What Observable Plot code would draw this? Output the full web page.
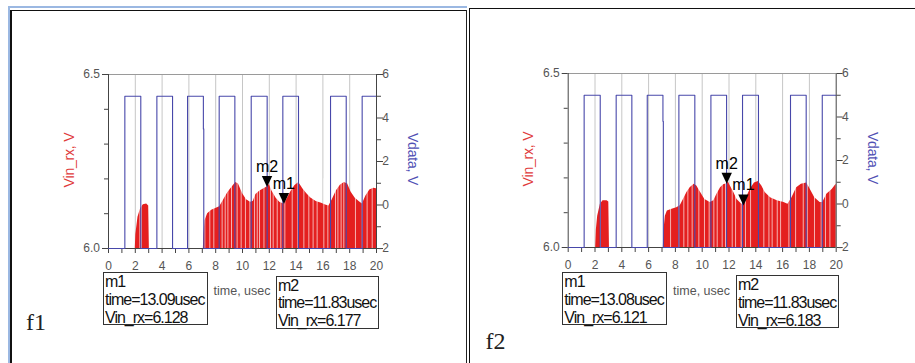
<!DOCTYPE html>
<html>
<head>
<meta charset="utf-8">
<script src="https://cdn.jsdelivr.net/npm/d3@7"></script>
<script src="https://cdn.jsdelivr.net/npm/@observablehq/plot@0.6"></script>
<style>
  html, body { margin: 0; padding: 0; background: #fff; }
  #page { position: relative; width: 915px; height: 363px; overflow: hidden; background: #fff;
          font-family: "Liberation Sans", Arial, sans-serif; }
  .layer { position: absolute; top: 0; }
  .line { position: absolute; }
  .box { position: absolute; border: 1px solid #333; box-sizing: border-box; font-size: 16px;
         letter-spacing: -1px; line-height: 17.8px; color: #111; padding-left: 1px; white-space: nowrap; }
  .axlab { position: absolute; font-size: 14px; white-space: nowrap; letter-spacing: -0.2px; }
  .xlab { position: absolute; font-size: 12.5px; color: #555; white-space: nowrap; transform: translate(-50%, -50%); }
  .fig { position: absolute; font-family: "Liberation Serif", "Times New Roman", serif; font-size: 24px;
         line-height: 24px; color: #222; }
</style>
</head>
<body>
<div id="page"></div>
<script>
// ---------------- data ----------------
const xTickLabels = [0, 2, 4, 6, 8, 10, 12, 14, 16, 18, 20];
const xMinorTicks = [1, 3, 5, 7, 9, 11, 13, 15, 17, 19];
const gridTimes = [2, 4, 6, 8, 10, 12, 14, 16, 18];
const leftTickLabels = [6.0, 6.5];
const leftMinorTicks = [6.1, 6.2, 6.3, 6.4];
const rightTickLabels = [-2, 0, 2, 4, 6];
const rightMinorTicks = [-1, 1, 3, 5];

// Panel f1
const vinTime1  = [0, 2.0, 2.04, 2.2, 2.4, 2.6, 2.85, 3.0, 3.05, 7.08, 7.12, 7.2, 7.4, 7.7, 8.0, 8.3, 8.6, 8.9, 9.2, 9.5, 9.7, 10.0, 10.3, 10.6, 10.8, 11.0, 11.3, 11.6, 11.83, 12.0, 12.2, 12.5, 12.8, 13.09, 13.3, 13.6, 13.9, 14.2, 14.5, 14.8, 15.1, 15.5, 15.9, 16.2, 16.45, 16.7, 17.0, 17.3, 17.6, 17.85, 18.1, 18.4, 18.7, 18.95, 19.2, 19.5, 19.8, 20.0];
const vinValue1 = [6.0, 6.0, 6.04, 6.09, 6.115, 6.126, 6.128, 6.122, 6.0, 6.0, 6.04, 6.08, 6.10, 6.11, 6.115, 6.12, 6.14, 6.16, 6.175, 6.19, 6.185, 6.158, 6.14, 6.133, 6.135, 6.155, 6.165, 6.172, 6.177, 6.184, 6.165, 6.145, 6.132, 6.128, 6.14, 6.162, 6.18, 6.19, 6.172, 6.157, 6.145, 6.135, 6.13, 6.125, 6.122, 6.14, 6.165, 6.182, 6.19, 6.185, 6.162, 6.145, 6.135, 6.128, 6.15, 6.168, 6.173, 6.172];
const vdataTime1  = [0, 1.22, 2.41, 3.61, 4.78, 5.9, 7.08, 7.11, 8.26, 9.43, 10.65, 11.84, 13.01, 14.18, 16.57, 17.74, 18.93, 20];
const vdataLevel1 = [-2, 5, -2, 5, -2, 5, 3.5, -2, 5, -2, 5, -2, 5, -2, 5, -2, 5, 5];
const streaks1 = [2.34, 2.46, 7.19, 7.56, 7.86, 8.48, 8.71, 8.91, 9.18, 9.6, 9.9, 10.22, 10.55, 10.9, 11.1, 11.27, 11.6, 12.09, 12.29, 12.59, 12.86, 13.16, 13.71, 14.13, 14.58, 14.95, 15.27, 15.57, 16.07, 16.37, 16.94, 17.12, 17.36, 17.56, 18.43, 18.93, 19.3, 19.68];
const markerName1  = ["m1", "m2"];
const markerTime1  = [13.09, 11.83];
const markerValue1 = [6.128, 6.177];

// Panel f2
const vinTime2  = [0, 2.05, 2.1, 2.2, 2.4, 2.6, 2.9, 3.03, 3.08, 7.1, 7.15, 7.25, 7.4, 7.75, 8.1, 8.36, 8.6, 8.86, 9.1, 9.4, 9.6, 9.85, 10.2, 10.6, 10.87, 11.1, 11.37, 11.6, 11.83, 11.95, 12.1, 12.36, 12.6, 12.86, 13.08, 13.33, 13.58, 13.9, 14.2, 14.45, 14.7, 15.1, 15.6, 16.1, 16.4, 16.7, 17.05, 17.4, 17.8, 18.0, 18.4, 18.8, 19.0, 19.3, 19.7, 20.0];
const vinValue2 = [6.0, 6.0, 6.05, 6.09, 6.124, 6.134, 6.134, 6.131, 6.0, 6.0, 6.05, 6.09, 6.105, 6.11, 6.114, 6.12, 6.138, 6.158, 6.172, 6.182, 6.177, 6.16, 6.138, 6.129, 6.134, 6.153, 6.172, 6.18, 6.183, 6.188, 6.177, 6.158, 6.138, 6.128, 6.121, 6.145, 6.167, 6.185, 6.19, 6.177, 6.158, 6.143, 6.134, 6.129, 6.124, 6.143, 6.172, 6.182, 6.185, 6.172, 6.143, 6.129, 6.129, 6.153, 6.167, 6.182];
const vdataTime2  = [0, 1.19, 2.39, 3.58, 4.75, 5.9, 7.07, 7.1, 8.26, 9.45, 10.65, 11.82, 13.01, 14.2, 16.59, 17.76, 18.96, 20];
const vdataLevel2 = [-2, 5, -2, 5, -2, 5, 3.8, -2, 5, -2, 5, -2, 5, -2, 5, -2, 5, 5];
const streaks2 = [2.41, 7.64, 8.26, 8.63, 8.93, 9.25, 9.75, 10.17, 10.52, 10.87, 11.12, 11.49, 11.74, 12.24, 12.49, 12.91, 13.23, 13.61, 14.6, 14.98, 15.22, 15.6, 15.85, 16.47, 16.97, 17.54, 17.84, 18.38, 18.88, 19.2, 19.53];
const markerName2  = ["m1", "m2"];
const markerTime2  = [13.08, 11.83];
const markerValue2 = [6.121, 6.183];

// ---------------- drawing ----------------
const page = document.getElementById("page");
const FONT = "'Liberation Sans', Arial, sans-serif";

function addDiv(cls, style, html) {
  const d = document.createElement("div");
  if (cls) d.className = cls;
  Object.assign(d.style, style);
  if (html != null) d.innerHTML = html;
  page.appendChild(d);
  return d;
}

const invTriangle = {
  draw(context) {
    context.moveTo(0, 0);
    context.lineTo(-5.2, -11);
    context.lineTo(5.2, -11);
    context.closePath();
  }
};

function panel(cfg) {
  const W = 460, H = 300;
  const common = {
    width: W, height: H,
    marginLeft: cfg.fx0 - cfg.left,
    marginRight: cfg.left + W - cfg.fx1,
    marginTop: cfg.fy0,
    marginBottom: H - cfg.fy1,
    style: {background: "transparent", fontFamily: FONT, fontSize: "12px", color: "#444", overflow: "visible"}
  };
  const vin = cfg.vinTime.map((t, i) => ({t, v: cfg.vinValue[i]}));
  const vdata = cfg.vdataTime.map((t, i) => ({t, v: cfg.vdataLevel[i]}));
  const markers = cfg.markerName.map((name, i) => ({name, time: cfg.markerTime[i], value: cfg.markerValue[i]}));

  // Layer A: Vin_rx (left scale) with bottom and left axes
  const a = Plot.plot({
    ...common,
    x: {domain: [0, 20], label: null},
    y: {domain: [6.0, 6.5], label: null},
    marks: [
      Plot.ruleX(gridTimes, {stroke: "#c6c6c6", strokeWidth: 1}),
      Plot.areaY(vin, {x: "t", y1: 6.0, y2: "v", fill: "#e41f1f", curve: "linear"}),
      Plot.ruleX(cfg.streaks, {y1: 6.0, y2: 6.2, stroke: "#ffffff", strokeOpacity: 0.65, strokeWidth: 1}),
      Plot.ruleY([6.5], {stroke: "#9a9a9a"}),
      Plot.axisX({ticks: xMinorTicks, tickSize: 5, tickFormat: () => "", label: null}),
      Plot.axisX({ticks: xTickLabels, tickSize: 5, tickPadding: 7.5, tickFormat: d => String(d), label: null, fill: "#555"}),
      Plot.axisY({ticks: leftMinorTicks, tickSize: 4, tickFormat: () => "", label: null}),
      Plot.axisY({ticks: leftTickLabels, tickSize: 6, tickPadding: 2.5, tickFormat: d => d.toFixed(1), label: null, fill: "#555"}),
      Plot.ruleX([0], {stroke: "#444"}),
      Plot.ruleY([6.0], {stroke: "#444"})
    ]
  });
  a.classList.add("layer");
  a.style.left = cfg.left + "px";
  page.appendChild(a);

  // Layer B: Vdata (right scale)
  const b = Plot.plot({
    ...common,
    x: {domain: [0, 20], label: null, axis: null},
    y: {domain: [-2, 6], label: null},
    marks: [
      Plot.line(vdata, {x: "t", y: "v", curve: "step-after", stroke: "#4848aa", strokeWidth: 1.1}),
      Plot.ruleX([20], {stroke: "#444"}),
      Plot.axisY({anchor: "right", ticks: rightMinorTicks, tickSize: 4, tickFormat: () => "", label: null}),
      Plot.axisY({anchor: "right", ticks: rightTickLabels, tickSize: 6, tickFormat: () => "", label: null}),
      Plot.text(rightTickLabels, {y: d => d, text: d => String(d), frameAnchor: "right", textAnchor: "end", dx: 12.5, fill: "#555"})
    ]
  });
  b.classList.add("layer");
  b.style.left = cfg.left + "px";
  page.appendChild(b);

  // Layer C: markers (left scale)
  const c = Plot.plot({
    ...common,
    x: {domain: [0, 20], label: null, axis: null},
    y: {domain: [6.0, 6.5], label: null, axis: null},
    marks: [
      Plot.dot(markers, {x: "time", y: "value", symbol: invTriangle, fill: "#000", stroke: "none"}),
      Plot.text(markers, {x: "time", y: "value", text: "name", dy: -15, lineAnchor: "bottom", fontSize: 16, fill: "#000"})
    ]
  });
  c.classList.add("layer");
  c.style.left = cfg.left + "px";
  page.appendChild(c);

  // axis titles
  const fyc = (cfg.fy0 + cfg.fy1) / 2;
  addDiv("axlab", {left: cfg.vinLabelX + "px", top: (fyc - 1) + "px", color: "#e03a3a",
    transform: "translate(-50%,-50%) rotate(-90deg)"}, "Vin_rx, V");
  addDiv("axlab", {left: cfg.vdataLabelX + "px", top: (fyc - 2) + "px", color: "#5050b4",
    transform: "translate(-50%,-50%) rotate(90deg)"}, "Vdata, V");
  addDiv("xlab", {left: cfg.timeX + "px", top: cfg.timeY + "px"}, "time, usec");

  // marker readout boxes
  markers.forEach((m, i) => {
    const bx = cfg.boxes[i];
    addDiv("box", {left: bx[0] + "px", top: bx[1] + "px", width: bx[2] + "px", height: bx[3] + "px"},
      `${m.name}<br>time=${m.time.toFixed(2)}usec<br>Vin_rx=${m.value.toFixed(3)}`);
  });

  addDiv("fig", {left: cfg.figX + "px", top: cfg.figY + "px"}, cfg.figName);
}

// panel frames
addDiv("line", {left: "8px", top: "6px", width: "459px", height: "2px", background: "#9bb8e2"});
addDiv("line", {left: "8px", top: "6px", width: "2px", height: "357px", background: "#9bb8e2"});
addDiv("line", {left: "10px", top: "9.5px", width: "457px", height: "1.5px", background: "#111"});
addDiv("line", {left: "10px", top: "9.5px", width: "1.5px", height: "354px", background: "#111"});
addDiv("line", {left: "466px", top: "9.5px", width: "1.2px", height: "354px", background: "#222"});
addDiv("line", {left: "468.5px", top: "7.5px", width: "447px", height: "1.5px", background: "#111"});
addDiv("line", {left: "468.5px", top: "7.5px", width: "1.5px", height: "356px", background: "#111"});

panel({
  left: 0, fx0: 108, fx1: 376, fy0: 74, fy1: 248,
  vinTime: vinTime1, vinValue: vinValue1, vdataTime: vdataTime1, vdataLevel: vdataLevel1,
  streaks: streaks1, markerName: markerName1, markerTime: markerTime1, markerValue: markerValue1,
  vinLabelX: 68.5, vdataLabelX: 413, timeX: 242, timeY: 291,
  boxes: [[103, 272, 105, 53], [276, 275.5, 103, 53]],
  figX: 26, figY: 310, figName: "f1"
});

panel({
  left: 460, fx0: 567.7, fx1: 835.7, fy0: 73, fy1: 247,
  vinTime: vinTime2, vinValue: vinValue2, vdataTime: vdataTime2, vdataLevel: vdataLevel2,
  streaks: streaks2, markerName: markerName2, markerTime: markerTime2, markerValue: markerValue2,
  vinLabelX: 528, vdataLabelX: 872.5, timeX: 701.5, timeY: 290.5,
  boxes: [[562.3, 272.3, 104.4, 52.5], [736, 275.3, 103.3, 53]],
  figX: 485.5, figY: 329, figName: "f2"
});
</script>
</body>
</html>
